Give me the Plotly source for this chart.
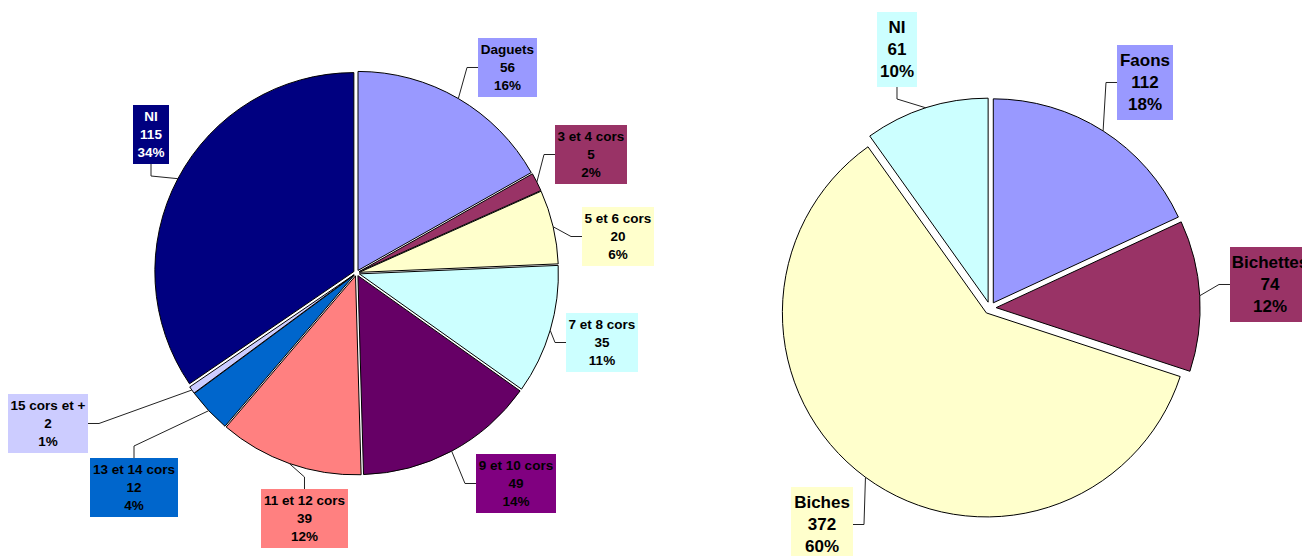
import math
import plotly.graph_objects as go

# ---------------- data ----------------
left_labels = ["Daguets", "3 et 4 cors", "5 et 6 cors", "7 et 8 cors", "9 et 10 cors",
               "11 et 12 cors", "13 et 14 cors", "15 cors et +", "NI"]
left_values = [56, 5, 20, 35, 49, 39, 12, 2, 115]
left_pct = ["16%", "2%", "6%", "11%", "14%", "12%", "4%", "1%", "34%"]

right_labels = ["Faons", "Bichettes", "Biches", "NI"]
right_values = [112, 74, 372, 61]
right_pct = ["18%", "12%", "60%", "10%"]

# ---------------- styles ----------------
left_colors = ["#9999FF", "#993366", "#FFFFCC", "#CCFFFF", "#660066",
               "#FF8080", "#0066CC", "#CCCCFF", "#000080"]
left_box_colors = ["#9999FF", "#993366", "#FFFFCC", "#CCFFFF", "#800080",
                   "#FF8080", "#0066CC", "#CCCCFF", "#000080"]
left_text_colors = ["black"] * 8 + ["white"]
right_colors = ["#9999FF", "#993366", "#FFFFCC", "#CCFFFF"]

W, H = 1302, 556
FONT = "Arial, Liberation Sans, sans-serif"

# pie geometry (pixels)
L = dict(cx=356.5, cy=273, r=199, pull=0.015)
R = dict(cx=990, cy=308, r=204, pull=0.03)

# label boxes (x0, y0, x1, y1) in pixels
left_boxes = [(478, 38, 537, 97), (555, 125, 627, 184), (582, 207, 654, 266),
              (566, 313, 638, 372), (476, 454, 556, 513), (261, 489, 348, 548),
              (90, 458, 178, 517), (8, 394, 88, 453), (133, 105, 169, 164)]
right_boxes = [(1117, 45, 1173, 120), (1230, 247, 1310, 322),
               (791, 487, 853, 562), (877, 12, 917, 87)]


def domain(g):
    half = g["r"] * (1 + g["pull"])
    return dict(x=[(g["cx"] - half) / W, (g["cx"] + half) / W],
                y=[1 - (g["cy"] + half) / H, 1 - (g["cy"] - half) / H])


fig = go.Figure()
fig.add_trace(go.Pie(
    labels=left_labels, values=left_values, sort=False, direction="clockwise",
    rotation=0, pull=L["pull"], textinfo="none", hoverinfo="none",
    marker=dict(colors=left_colors, line=dict(color="black", width=1)),
    domain=domain(L), showlegend=False))
fig.add_trace(go.Pie(
    labels=right_labels, values=right_values, sort=False, direction="clockwise",
    rotation=0, pull=R["pull"], textinfo="none", hoverinfo="none",
    marker=dict(colors=right_colors, line=dict(color="black", width=1)),
    domain=domain(R), showlegend=False))

annotations = []
shapes = []


def P(x, y):
    return f"{x / W:.5f},{1 - y / H:.5f}"


def add_labels(g, labels, values, pcts, boxes, boxcolors, textcolors, size):
    total = sum(values)
    cum = 0
    for lab, v, p, box, bc, tc in zip(labels, values, pcts, boxes, boxcolors, textcolors):
        f = (cum + v / 2) / total
        cum += v
        th = 2 * math.pi * f
        rr = g["r"] * (1 + g["pull"])
        px = g["cx"] + rr * math.sin(th)
        py = g["cy"] - rr * math.cos(th)
        x0, y0, x1, y1 = box
        bx, by = (x0 + x1) / 2, (y0 + y1) / 2
        # leader line with an elbow
        dx_out = max(x0 - px, px - x1, 0)
        dy_out = max(y0 - py, py - y1, 0)
        if dx_out >= dy_out:
            sx = x0 if px < x0 else x1
            ex = sx - 11 if px < x0 else sx + 11
            pts = [(sx, by), (ex, by), (px, py)]
        else:
            sy = y0 if py < y0 else y1
            ey = sy - 12 if py < y0 else sy + 12
            pts = [(bx, sy), (bx, ey), (px, py)]
        path = "M " + " L ".join(P(*q) for q in pts)
        shapes.append(dict(type="path", xref="paper", yref="paper", path=path,
                           line=dict(color="#222222", width=1)))
        annotations.append(dict(
            x=bx / W, y=1 - by / H, xref="paper", yref="paper",
            xanchor="center", yanchor="middle",
            width=x1 - x0, height=y1 - y0, borderpad=0,
            text=f"<b>{lab}<br>{v}<br>{p}</b>", showarrow=False,
            bgcolor=bc, borderwidth=0,
            font=dict(family=FONT, size=size, color=tc), align="center", valign="middle"))


add_labels(L, left_labels, left_values, left_pct, left_boxes,
           left_box_colors, left_text_colors, 13.5)
add_labels(R, right_labels, right_values, right_pct, right_boxes,
           right_colors, ["black"] * 4, 17)

fig.update_layout(
    width=W, height=H, margin=dict(l=0, r=0, t=0, b=0),
    paper_bgcolor="white", plot_bgcolor="white",
    annotations=annotations, shapes=shapes, font=dict(family=FONT))

fig.write_html("out.html", config={"displayModeBar": False},
               post_script="document.body.style.margin='0';document.body.style.overflow='hidden';")
